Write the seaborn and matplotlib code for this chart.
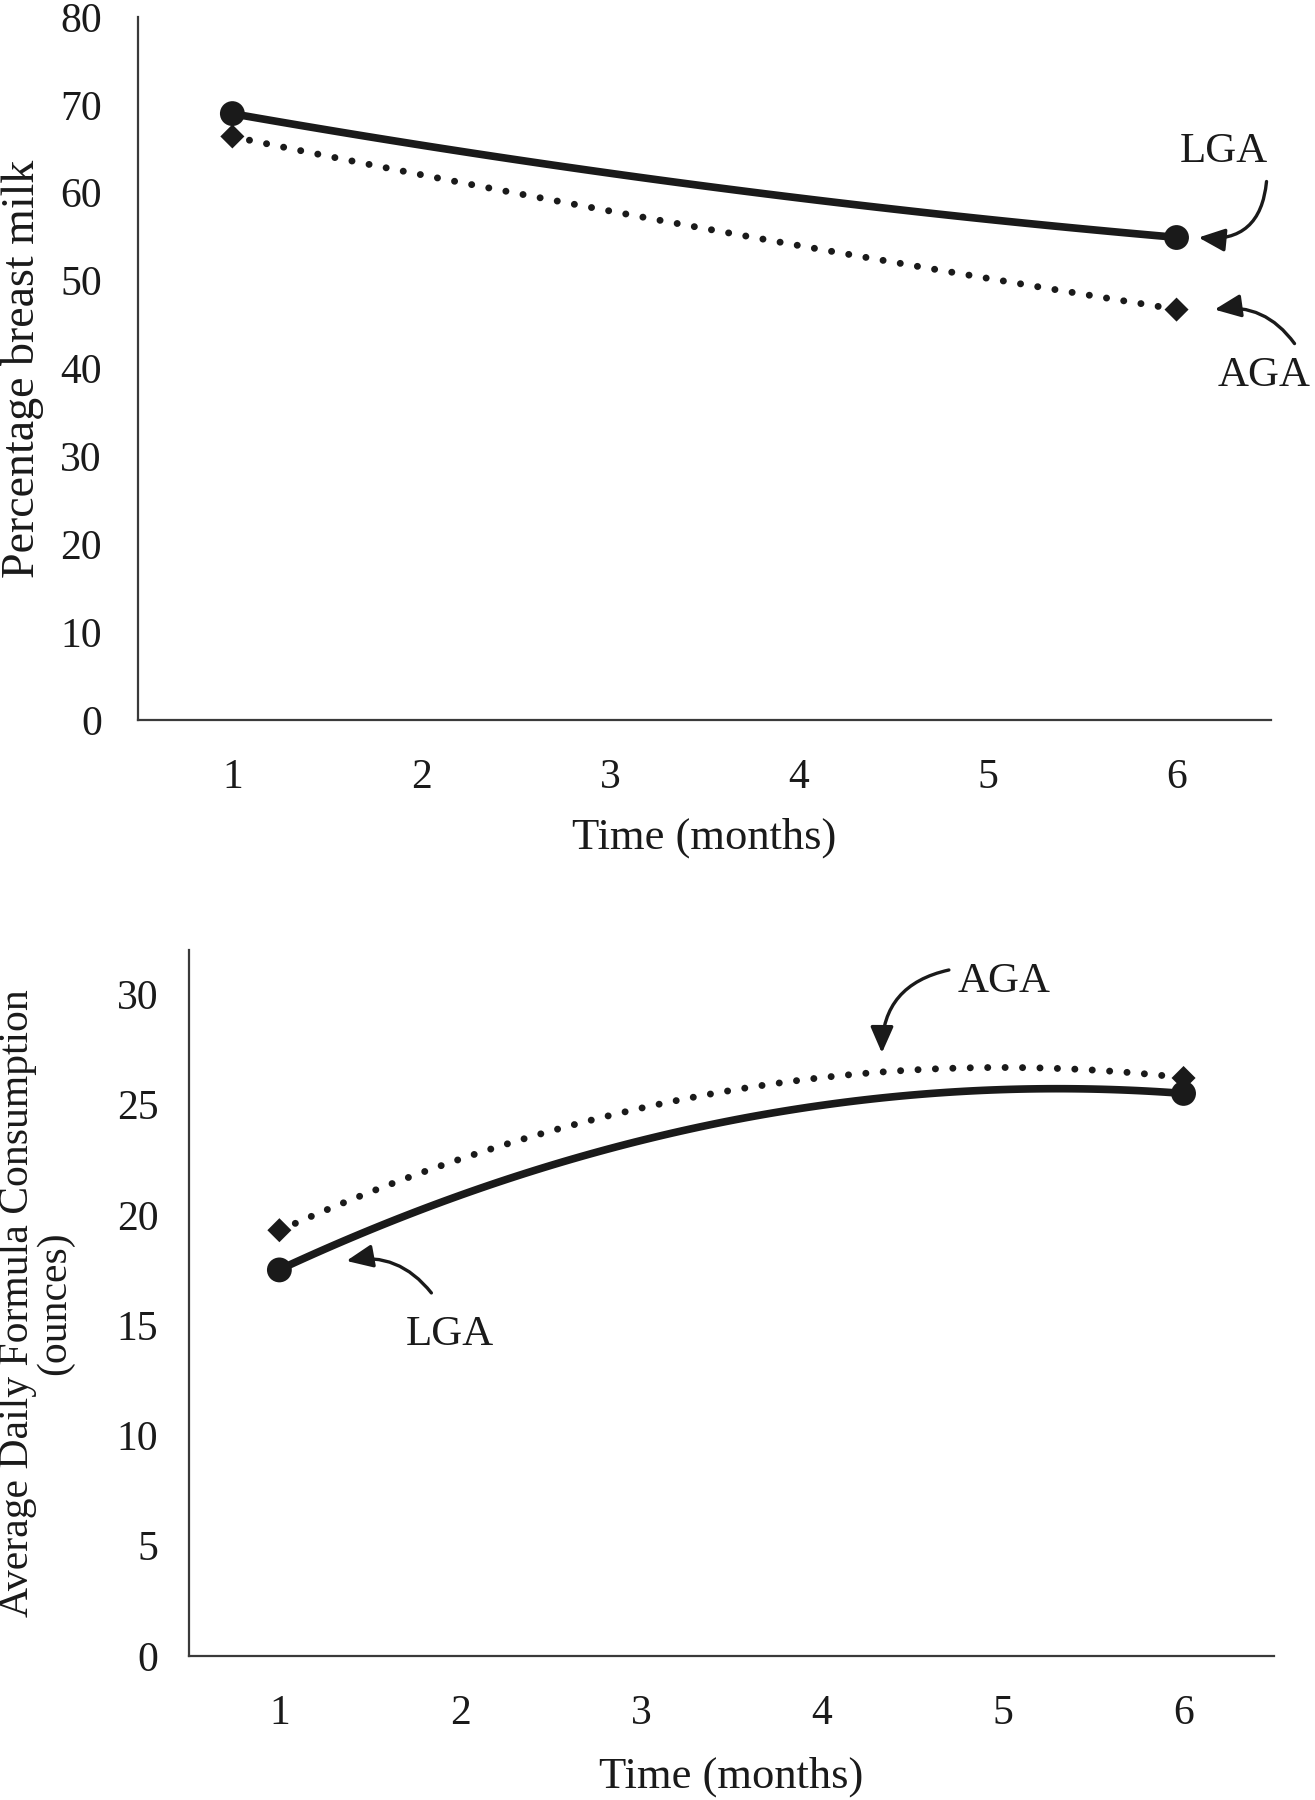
import numpy as np
import pandas as pd
import matplotlib
matplotlib.use("Agg")
import matplotlib.pyplot as plt
import seaborn as sns

# data (monthly readings along the curves)
months = [1, 2, 3, 4, 5, 6]
milk_lga = [69.0, 65.4, 62.2, 59.4, 57.0, 54.9]
milk_aga = [66.4, 62.0, 57.9, 54.0, 50.3, 46.7]
formula_lga = [17.5, 20.9, 23.4, 24.9, 25.7, 25.5]
formula_aga = [19.3, 22.5, 24.85, 26.2, 26.7, 26.2]

top_yticks = [0, 10, 20, 30, 40, 50, 60, 70, 80]
bottom_yticks = [0, 5, 10, 15, 20, 25, 30]

sns.set_theme(style="white")
plt.rcParams['font.family'] = ['Liberation Serif', 'DejaVu Serif']

ink = "#1a1a1a"
dotted = (0, (0.01, 2.5))

fig = plt.figure(figsize=(13.15, 18), dpi=100)
ax1 = fig.add_axes([0.1049, 0.6, 0.8616, 0.3906])
ax2 = fig.add_axes([0.1437, 0.08, 0.8251, 0.3922])


def draw_panel(ax, lga, aga):
    df = pd.DataFrame({'month': months, 'LGA': lga, 'AGA': aga})
    ends = df.iloc[[0, -1]]
    # smooth trend curves (2nd order, like the original trendlines)
    sns.regplot(data=df, x='month', y='AGA', order=2, ci=None, scatter=False,
                truncate=True, ax=ax,
                line_kws=dict(color=ink, lw=5, linestyle=dotted, dash_capstyle='round'))
    sns.regplot(data=df, x='month', y='LGA', order=2, ci=None, scatter=False,
                truncate=True, ax=ax,
                line_kws=dict(color=ink, lw=5.5, solid_capstyle='round'))
    sns.scatterplot(data=ends, x='month', y='AGA', marker='D', s=150, color=ink,
                    edgecolor='none', ax=ax, zorder=4)
    sns.scatterplot(data=ends, x='month', y='LGA', marker='o', s=320, color=ink,
                    edgecolor='none', ax=ax, zorder=5)
    ax.set_xlim(0.5, 6.5)
    ax.set_xticks(months)
    ax.set_xticklabels([str(m) for m in months])
    sns.despine(ax=ax)
    for side in ['left', 'bottom']:
        ax.spines[side].set_color('#3a3a3a')
        ax.spines[side].set_linewidth(1.6)
    ax.tick_params(axis='both', length=0, labelsize=30, colors=ink)
    ax.tick_params(axis='x', pad=28)


def label_arrow(ax, anchor, tip_off, start_off, text_off, text, rad):
    # arrow from start offset to tip offset, both relative to anchor point (pixels)
    tip = ax.transData.transform(anchor) + np.array(tip_off)
    start = ax.transData.transform(anchor) + np.array(start_off)
    inv = ax.transData.inverted()
    ax.annotate('', xy=inv.transform(tip), xycoords='data',
                xytext=inv.transform(start), textcoords='data',
                arrowprops=dict(arrowstyle='-|>,head_length=0.8,head_width=0.35',
                                mutation_scale=20, color=ink, lw=2.4,
                                connectionstyle=f'arc3,rad={rad}',
                                shrinkA=0, shrinkB=0),
                annotation_clip=False)
    ax.annotate(text, xy=anchor, xycoords='data', xytext=text_off,
                textcoords='offset pixels', ha='center', va='center',
                fontsize=31, color=ink, annotation_clip=False)


# top panel
draw_panel(ax1, milk_lga, milk_aga)
ax1.set_ylim(0, 80)
ax1.set_yticks(top_yticks)
ax1.tick_params(axis='y', pad=26)
ax1.set_xlabel('Time (months)', fontsize=32, color=ink, va='top')
ax1.set_ylabel('Percentage breast milk', fontsize=33, color=ink)
ax1.xaxis.set_label_coords(0.5, -0.138)
ax1.yaxis.set_label_coords(-0.083, 0.5)

# bottom panel
draw_panel(ax2, formula_lga, formula_aga)
ax2.set_ylim(0, 32)
ax2.set_yticks(bottom_yticks)
ax2.tick_params(axis='y', pad=22)
ax2.set_xlabel('Time (months)', fontsize=32, color=ink, va='top')
ax2.set_ylabel('Average Daily Formula Consumption\n(ounces)', fontsize=30,
               color=ink, linespacing=0.95)
ax2.xaxis.set_label_coords(0.5, -0.142)
ax2.yaxis.set_label_coords(-0.106, 0.5)

fig.canvas.draw()

label_arrow(ax1, (months[-1], milk_lga[-1]), (22, 0), (90, 56), (47, 86), 'LGA', -0.5)
label_arrow(ax1, (months[-1], milk_aga[-1]), (38, 0), (118, -34), (88, -66), 'AGA', 0.3)
label_arrow(ax2, (months[3], formula_aga[3]), (60, 25), (127, 108), (182, 96), 'AGA', 0.4)
label_arrow(ax2, (months[0], formula_lga[0]), (67, 9), (152, -23), (170, -65), 'LGA', 0.3)

fig.savefig('out.png', dpi=100, facecolor='white')
